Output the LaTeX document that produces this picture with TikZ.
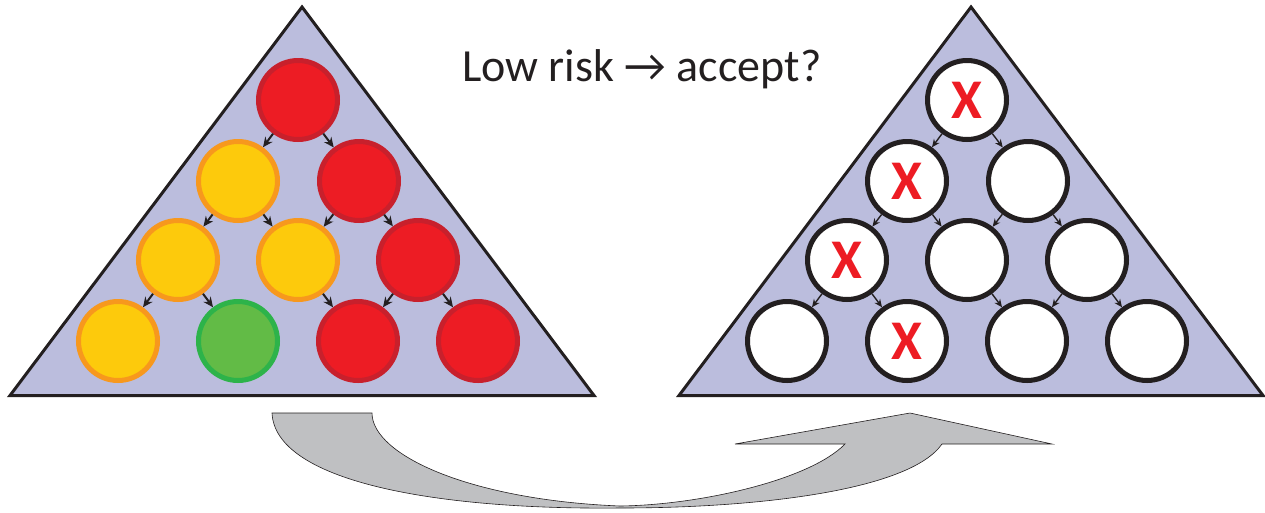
\documentclass[tikz,border=0pt]{standalone}
\usepackage{fontspec}
\setmainfont{Carlito}
\usetikzlibrary{arrows.meta}
\definecolor{trifill}{HTML}{BBBDDD}
\definecolor{darkline}{HTML}{231F20}
\definecolor{redfill}{HTML}{ED1C24}
\definecolor{redline}{HTML}{C8202C}
\definecolor{yelfill}{HTML}{FDCA0C}
\definecolor{yelline}{HTML}{F7981D}
\definecolor{grnfill}{HTML}{62BB46}
\definecolor{grnline}{HTML}{2DB34A}
\definecolor{arrgray}{HTML}{BFC0C2}
\definecolor{xred}{HTML}{ED1C24}
\tikzset{
  tri/.style={fill=trifill,draw=darkline,line width=3pt,line join=miter},
  ball/.style={circle,inner sep=0pt,minimum size=79pt,line width=5pt},
  redball/.style={ball,fill=redfill,draw=redline},
  yelball/.style={ball,fill=yelfill,draw=yelline},
  grnball/.style={ball,fill=grnfill,draw=grnline},
  wball/.style={ball,fill=white,draw=darkline,font=\bfseries\fontsize{56}{56}\selectfont,text=xred},
  larr/.style={draw=darkline,line width=2pt,-{Stealth[length=10pt,width=9pt]}},
  rarr/.style={draw=darkline,line width=1.4pt,-{Stealth[length=8pt,width=7pt]}},
  bigarrow/.style={fill=arrgray,draw=darkline,line width=0.6pt,line join=miter}
}
\begin{document}
\begin{tikzpicture}[x=1pt,y=-1pt]
\useasboundingbox (0,0) rectangle (1265,512);
% triangles
\draw[tri] (10,395.5) -- (302,7) -- (594,395.5) -- cycle;
\draw[tri] (679,395.5) -- (971,7) -- (1263,395.5) -- cycle;
% title
\node[anchor=base west,inner sep=0pt,text=darkline,font=\fontsize{46}{46}\selectfont] (title) at (462,81) {Low risk → accept?};
% left balls
\node[redball] (L1) at (298,100) {};
\node[yelball] (L21) at (238,181) {};
\node[redball] (L22) at (359,181) {};
\node[yelball] (L31) at (178,260) {};
\node[yelball] (L32) at (298,260) {};
\node[redball] (L33) at (418,260) {};
\node[yelball] (L41) at (118,341) {};
\node[grnball] (L42) at (238,341) {};
\node[redball] (L43) at (358,341) {};
\node[redball] (L44) at (478,341) {};
\foreach \a/\b in {L1/L21,L1/L22,L21/L31,L21/L32,L22/L32,L22/L33,L31/L41,L31/L42,L32/L43,L33/L43,L33/L44}
  \draw[larr] (\a) -- (\b);
% right balls
\node[wball] (R1) at (967,100) {X};
\node[wball] (R21) at (907,181) {X};
\node[wball] (R22) at (1028,181) {};
\node[wball] (R31) at (847,260) {X};
\node[wball] (R32) at (967,260) {};
\node[wball] (R33) at (1087,260) {};
\node[wball] (R41) at (787,341) {};
\node[wball] (R42) at (907,341) {X};
\node[wball] (R43) at (1027,341) {};
\node[wball] (R44) at (1147,341) {};
\foreach \a/\b in {R1/R21,R1/R22,R21/R31,R21/R32,R22/R32,R22/R33,R31/R41,R31/R42,R32/R43,R33/R43,R33/R44}
  \draw[rarr] (\a) -- (\b);
% curved arrow
\draw[bigarrow] (272,413) -- (372,413)
  .. controls (372,455) and (470,500) .. (620,506)
  .. controls (700,505) and (810,480) .. (845,444)
  -- (735,444) -- (910,413) -- (1052,444) -- (942,444)
  .. controls (910,490) and (760,508) .. (620,508)
  .. controls (430,510) and (275,480) .. (272,413) -- cycle;
\end{tikzpicture}
\end{document}
